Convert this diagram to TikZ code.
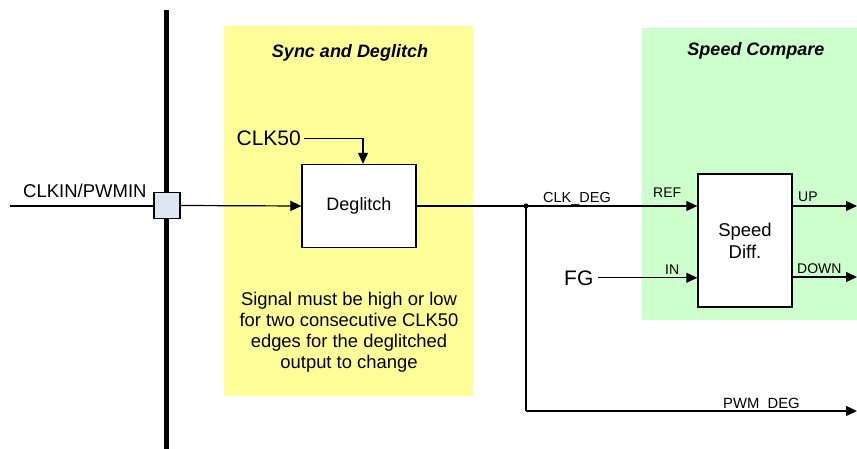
\documentclass[tikz,border=0pt]{standalone}
\usepackage{fontspec}
\setmainfont{Liberation Sans}
\usetikzlibrary{arrows.meta,calc}
\definecolor{ylw}{RGB}{255,255,153}
\definecolor{grn}{RGB}{204,255,204}
\definecolor{sqfill}{RGB}{221,230,243}
\begin{document}
\begin{tikzpicture}[x=1pt,y=-1pt,
  wire/.style={line width=1.2pt, draw=black},
  arr/.style={wire,-{Triangle[length=11pt,width=10pt]}},
  blk/.style={draw, line width=1.3pt, fill=white, inner sep=0pt},
  lbl/.style={inner sep=0pt, font=\fontsize{14}{16}\selectfont},
  big/.style={inner sep=0pt, font=\fontsize{18.5}{21}\selectfont},
  huge/.style={inner sep=0pt, font=\fontsize{21}{24}\selectfont},
  title/.style={inner sep=0pt, font=\fontsize{18}{21}\selectfont\bfseries\itshape},
  region/.style={anchor=north west, inner sep=0pt, draw=none}
  ]
\useasboundingbox (0,0) rectangle (857,449);
% regions
\node[region, fill=ylw, minimum width=249pt, minimum height=370pt] (sync) at (224,26) {};
\node[region, fill=grn, minimum width=215pt, minimum height=292pt] (cmp) at (642,28) {};
\node[title, anchor=base] (synct) at (350,58) {Sync and Deglitch};
\node[title, anchor=base] (cmpt) at (756,56) {Speed Compare};
% bus bar
\coordinate (bartop) at (166.7,10);
\coordinate (barbot) at (166.7,449);
\draw[line width=4.5pt] (bartop) -- (barbot);
% input
\coordinate (in0) at (10,206);
\node[big, anchor=base west] (clkin) at (23,198) {CLKIN/PWMIN};
\node[draw, line width=1.2pt, fill=sqfill, minimum size=26pt, inner sep=0pt] (sq) at (167,205.5) {};
\draw[wire] (in0) -- (in0 -| sq.west);
% deglitch
\node[blk, minimum width=114pt, minimum height=83pt, font=\fontsize{18}{21}\selectfont] (deg) at (359,206) {Deglitch};
\draw[arr] (sq.east) -- (deg.west);
\node[huge, anchor=base east] (clk50) at (301,146) {CLK50};
\draw[arr] ([xshift=3pt]clk50.east) -| ([xshift=4pt]deg.north);
\node[big, anchor=base, align=center, font=\fontsize{18.4}{21}\selectfont] (note) at (349,368)
  {Signal must be high or low\\for two consecutive CLK50\\edges for the deglitched\\output to change};
% speed diff
\node[blk, minimum width=94pt, minimum height=133pt, align=center, font=\fontsize{18.5}{22}\selectfont] (spd) at (745,240.5) {Speed\\Diff.};
\coordinate (dot) at (526,206);
\draw[wire] (deg.east) -- (dot);
\draw[arr] (dot) -- (dot -| spd.west);
\fill (dot) circle (2.6pt);
\node[lbl, anchor=base west, font=\fontsize{14.5}{16}\selectfont] (clkdeg) at (543,203) {CLK\_DEG};
\node[lbl, anchor=base west] (ref) at (653,198) {REF};
\node[huge, anchor=base west] (fg) at (564,285) {FG};
\draw[arr] ([xshift=4pt]fg.east) -- (fg.east -| spd.west);
\node[lbl, anchor=base west] (inl) at (665,274) {IN};
% outputs
\coordinate (upend) at (857,206);
\coordinate (dnend) at (857,277);
\draw[arr] (spd.east |- upend) -- (upend);
\draw[arr] (spd.east |- dnend) -- (dnend);
\node[lbl, anchor=base west] (upl) at (798,202) {UP};
\node[lbl, anchor=base west] (dnl) at (797,273) {DOWN};
% pwm deg
\coordinate (pwmc) at (526,411);
\coordinate (pwmend) at (857,411);
\draw[wire] (dot) -- (pwmc);
\draw[arr] (pwmc) -- (pwmend);
\node[lbl, anchor=base west, font=\fontsize{14.8}{16}\selectfont] (pwml) at (723,408) {PWM\_DEG};
\end{tikzpicture}
\end{document}
